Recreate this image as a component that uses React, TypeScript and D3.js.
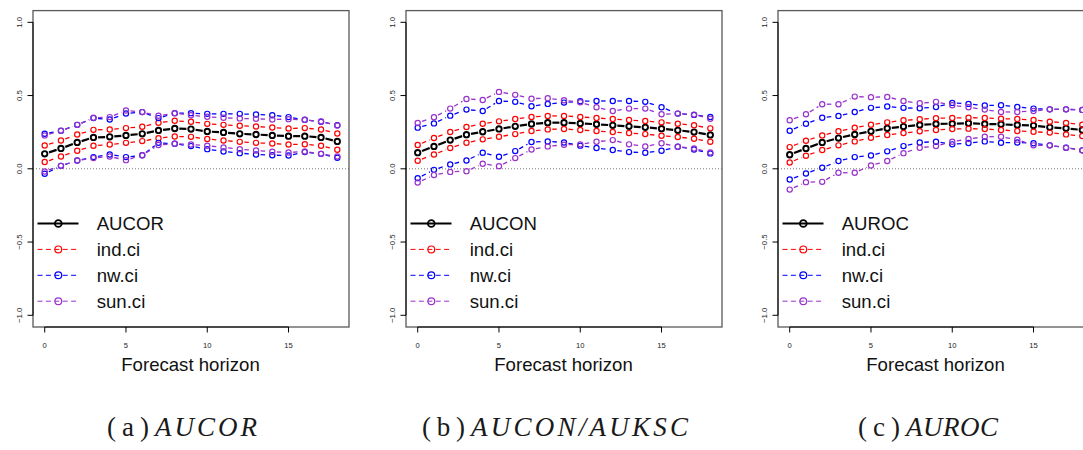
import React, { useEffect, useRef } from 'react';
import * as d3 from 'd3';

// forecast horizons on the x axis
const horizons = [0, 1, 2, 3, 4, 5, 6, 7, 8, 9, 10, 11, 12, 13, 14, 15, 16, 17, 18];

// (a) AUCOR
const aucorEst = [0.102, 0.139, 0.18, 0.214, 0.218, 0.228, 0.239, 0.262, 0.275, 0.271, 0.255, 0.248, 0.239, 0.234, 0.228, 0.223, 0.223, 0.214, 0.187];
const aucorIndUp = [0.159, 0.193, 0.234, 0.266, 0.268, 0.278, 0.287, 0.314, 0.328, 0.321, 0.307, 0.3, 0.294, 0.289, 0.282, 0.275, 0.278, 0.268, 0.241];
const aucorIndLow = [0.046, 0.084, 0.123, 0.157, 0.166, 0.177, 0.189, 0.209, 0.221, 0.218, 0.203, 0.193, 0.184, 0.177, 0.173, 0.166, 0.168, 0.157, 0.13];
const aucorNwUp = [0.239, 0.26, 0.3, 0.346, 0.337, 0.378, 0.387, 0.346, 0.38, 0.38, 0.375, 0.375, 0.375, 0.371, 0.366, 0.353, 0.335, 0.321, 0.298];
const aucorNwLow = [-0.034, 0.02, 0.057, 0.08, 0.098, 0.08, 0.093, 0.177, 0.171, 0.155, 0.134, 0.118, 0.107, 0.098, 0.093, 0.091, 0.114, 0.102, 0.075];
const aucorSunUp = [0.228, 0.259, 0.3, 0.348, 0.353, 0.398, 0.387, 0.362, 0.38, 0.366, 0.355, 0.348, 0.344, 0.341, 0.337, 0.339, 0.334, 0.323, 0.296];
const aucorSunLow = [-0.018, 0.02, 0.057, 0.073, 0.084, 0.059, 0.093, 0.162, 0.171, 0.166, 0.157, 0.146, 0.134, 0.125, 0.116, 0.111, 0.118, 0.102, 0.084];

// (b) AUCON/AUKSC
const auconEst = [0.11, 0.153, 0.196, 0.233, 0.253, 0.272, 0.29, 0.306, 0.315, 0.315, 0.31, 0.304, 0.297, 0.29, 0.283, 0.274, 0.263, 0.251, 0.231];
const auconIndUp = [0.162, 0.21, 0.251, 0.285, 0.308, 0.324, 0.34, 0.354, 0.361, 0.361, 0.354, 0.347, 0.34, 0.333, 0.326, 0.317, 0.308, 0.297, 0.276];
const auconIndLow = [0.055, 0.098, 0.142, 0.178, 0.201, 0.219, 0.237, 0.258, 0.269, 0.272, 0.265, 0.258, 0.251, 0.244, 0.237, 0.226, 0.217, 0.205, 0.185];
const auconNwUp = [0.281, 0.31, 0.363, 0.404, 0.395, 0.463, 0.457, 0.427, 0.443, 0.452, 0.461, 0.463, 0.463, 0.463, 0.457, 0.42, 0.377, 0.368, 0.354];
const auconNwLow = [-0.064, -0.007, 0.03, 0.057, 0.11, 0.082, 0.121, 0.183, 0.187, 0.18, 0.158, 0.142, 0.128, 0.114, 0.11, 0.123, 0.151, 0.132, 0.105];
const auconSunUp = [0.313, 0.352, 0.411, 0.477, 0.47, 0.525, 0.505, 0.479, 0.482, 0.468, 0.454, 0.42, 0.395, 0.411, 0.411, 0.372, 0.377, 0.37, 0.342];
const auconSunLow = [-0.094, -0.043, -0.021, -0.016, 0.034, 0.018, 0.073, 0.132, 0.153, 0.164, 0.167, 0.185, 0.196, 0.167, 0.153, 0.174, 0.151, 0.139, 0.112];

// (c) AUROC
const aurocEst = [0.096, 0.139, 0.18, 0.21, 0.235, 0.256, 0.276, 0.288, 0.299, 0.306, 0.308, 0.311, 0.306, 0.304, 0.299, 0.295, 0.283, 0.276, 0.265];
const aurocIndUp = [0.148, 0.192, 0.228, 0.256, 0.281, 0.301, 0.317, 0.331, 0.338, 0.345, 0.347, 0.349, 0.347, 0.342, 0.34, 0.333, 0.322, 0.313, 0.301];
const aurocIndLow = [0.043, 0.089, 0.128, 0.16, 0.187, 0.212, 0.231, 0.244, 0.256, 0.265, 0.272, 0.274, 0.272, 0.265, 0.258, 0.253, 0.247, 0.235, 0.224];
const aurocNwUp = [0.26, 0.308, 0.349, 0.361, 0.388, 0.416, 0.425, 0.416, 0.413, 0.422, 0.45, 0.443, 0.432, 0.434, 0.422, 0.411, 0.406, 0.406, 0.402];
const aurocNwLow = [-0.073, -0.032, 0.007, 0.053, 0.08, 0.091, 0.119, 0.155, 0.18, 0.185, 0.167, 0.176, 0.187, 0.178, 0.18, 0.174, 0.16, 0.144, 0.126];
const aurocSunUp = [0.331, 0.372, 0.441, 0.441, 0.493, 0.489, 0.491, 0.463, 0.447, 0.457, 0.434, 0.42, 0.404, 0.388, 0.388, 0.395, 0.406, 0.406, 0.402];
const aurocSunLow = [-0.142, -0.091, -0.089, -0.027, -0.027, 0.023, 0.053, 0.107, 0.144, 0.155, 0.185, 0.203, 0.219, 0.219, 0.199, 0.16, 0.16, 0.144, 0.126];

const ciNames = ['ind.ci', 'nw.ci', 'sun.ci'];
const ciColors = ['#FF0000', '#0000FF', '#9932CC'];
const panelNames = ['AUCOR', 'AUCON', 'AUROC'];
const captionTags = ['(a)', '(b)', '(c)'];
const captionNames = ['AUCOR', 'AUCON/AUKSC', 'AUROC'];
const yTicks = [-1, -0.5, 0, 0.5, 1];
const xTicks = [0, 5, 10, 15];

const panels = [
  { est: aucorEst, bands: [[aucorIndUp, aucorIndLow], [aucorNwUp, aucorNwLow], [aucorSunUp, aucorSunLow]] },
  { est: auconEst, bands: [[auconIndUp, auconIndLow], [auconNwUp, auconNwLow], [auconSunUp, auconSunLow]] },
  { est: aurocEst, bands: [[aurocIndUp, aurocIndLow], [aurocNwUp, aurocNwLow], [aurocSunUp, aurocSunLow]] },
];

const W = 1083, H = 450;
const boxLefts = [33, 406, 778];
const boxTop = 10.6, boxW = 316, boxH = 316.4;
// caption layout: [tag x, tag width, name x, name width]
const captionPos = [[107, 42, 155, 102], [422, 43, 471, 217], [858, 42, 906, 92]];
const sans = 'Liberation Sans, Arial, Helvetica, sans-serif';
const serif = 'Liberation Serif, Times New Roman, serif';

const App = () => {
  const svgRef = useRef<SVGSVGElement>(null);

  useEffect(() => {
    if (!svgRef.current) return;
    const svg = d3.select(svgRef.current);
    svg.selectAll('*').remove();

    const x = d3.scaleLinear().domain([-0.72, 18.72]).range([0, boxW]);
    const y = d3.scaleLinear().domain([-1.08, 1.08]).range([boxH, 0]);
    const gap = 4.6;

    panels.forEach((p, k) => {
      const g = svg.append('g').attr('transform', `translate(${boxLefts[k]},${boxTop})`);

      g.append('line')
        .attr('x1', 0).attr('x2', boxW).attr('y1', y(0)).attr('y2', y(0))
        .attr('stroke', '#777').attr('stroke-width', 1).attr('stroke-dasharray', '1,2');

      // R type="b": segments with gaps around the points
      const drawB = (vals: number[], color: string, lw: number, dash: string | null, r: number, sw: number) => {
        const pts = horizons.map((h, i) => [x(h), y(vals[i])]);
        const segs = [];
        for (let i = 0; i < pts.length - 1; i++) {
          const [x1, y1] = pts[i], [x2, y2] = pts[i + 1];
          const len = Math.hypot(x2 - x1, y2 - y1);
          if (len <= 2 * gap) continue;
          const ux = (x2 - x1) / len, uy = (y2 - y1) / len;
          segs.push([x1 + ux * gap, y1 + uy * gap, x2 - ux * gap, y2 - uy * gap]);
        }
        g.append('g').selectAll('line').data(segs).join('line')
          .attr('x1', d => d[0]).attr('y1', d => d[1]).attr('x2', d => d[2]).attr('y2', d => d[3])
          .attr('stroke', color).attr('stroke-width', lw)
          .attr('stroke-dasharray', dash);
        g.append('g').selectAll('circle').data(pts).join('circle')
          .attr('cx', d => d[0]).attr('cy', d => d[1]).attr('r', r)
          .attr('fill', 'none').attr('stroke', color).attr('stroke-width', sw);
      };

      drawB(p.est, '#000', 2.2, null, 2.7, 1.9);
      p.bands.forEach((b, j) => {
        drawB(b[0], ciColors[j], 1.3, '4.5,3.5', 2.6, 1.2);
        drawB(b[1], ciColors[j], 1.3, '4.5,3.5', 2.6, 1.2);
      });

      // box
      g.append('rect').attr('width', boxW).attr('height', boxH)
        .attr('fill', 'none').attr('stroke', '#5a5a5a').attr('stroke-width', 1.3);

      // y axis
      const ya = g.append('g').attr('font-family', sans).attr('font-size', 7.8).attr('fill', '#222');
      ya.append('line').attr('x1', 0).attr('x2', 0).attr('y1', y(-1)).attr('y2', y(1)).attr('stroke', '#000').attr('stroke-width', 1);
      ya.selectAll('line.t').data(yTicks).join('line').attr('class', 't')
        .attr('x1', -5.5).attr('x2', 0).attr('y1', d => y(d)).attr('y2', d => y(d)).attr('stroke', '#000');
      ya.selectAll('text').data(yTicks).join('text')
        .attr('transform', d => `translate(-14,${y(d)}) rotate(-90)`)
        .attr('text-anchor', 'middle').attr('dy', '0.35em')
        .text(d => d3.format('.1f')(d).replace('-', '\u2212'));

      // x axis
      const xa = g.append('g').attr('font-family', sans).attr('font-size', 7.6).attr('fill', '#222');
      xa.append('line').attr('x1', x(0)).attr('x2', x(15)).attr('y1', boxH).attr('y2', boxH).attr('stroke', '#000');
      xa.selectAll('line.t').data(xTicks).join('line').attr('class', 't')
        .attr('x1', d => x(d)).attr('x2', d => x(d)).attr('y1', boxH).attr('y2', boxH + 5.5).attr('stroke', '#000');
      xa.selectAll('text').data(xTicks).join('text')
        .attr('x', d => x(d)).attr('y', boxH + 21).attr('text-anchor', 'middle').text(d => d);

      g.append('text').attr('x', boxW / 2 - 0.5).attr('y', 360.6)
        .attr('text-anchor', 'middle').attr('font-family', sans).attr('font-size', 18.6).attr('fill', '#111')
        .text('Forecast horizon');

      // legend
      const names = [panelNames[k], ...ciNames];
      const colors = ['#000', ...ciColors];
      const lg = g.append('g').attr('font-family', sans).attr('font-size', 18.6);
      names.forEach((nm, i) => {
        const cy = 212.9 + i * 25.9;
        lg.append('line').attr('x1', 4.5).attr('x2', 45.5).attr('y1', cy).attr('y2', cy)
          .attr('stroke', colors[i]).attr('stroke-width', i === 0 ? 2 : 1)
          .attr('stroke-dasharray', i === 0 ? null : '5,3.4');
        lg.append('circle').attr('cx', 25.3).attr('cy', cy).attr('r', 3.4)
          .attr('fill', 'none').attr('stroke', colors[i]).attr('stroke-width', i === 0 ? 1.8 : 1.2);
        lg.append('text').attr('x', 63.7).attr('y', cy).attr('dy', '0.36em').attr('fill', '#111').text(nm);
      });

      // caption
      const [tx, tw, nx, nw] = captionPos[k];
      svg.append('text').attr('x', tx).attr('y', 436).attr('font-family', serif).attr('font-size', 27)
        .attr('fill', '#1a1a1a').attr('textLength', tw).attr('lengthAdjust', 'spacing')
        .text(captionTags[k]);
      svg.append('text').attr('x', nx).attr('y', 436).attr('font-family', serif).attr('font-size', 27)
        .attr('fill', '#1a1a1a').attr('font-style', 'italic')
        .attr('textLength', nw).attr('lengthAdjust', 'spacing')
        .text(captionNames[k]);
    });
  }, []);

  return (
    <svg ref={svgRef} width={W} height={H}
      style={{ position: 'absolute', left: 0, top: 0, background: '#fff', display: 'block' }} />
  );
};

export default App;
